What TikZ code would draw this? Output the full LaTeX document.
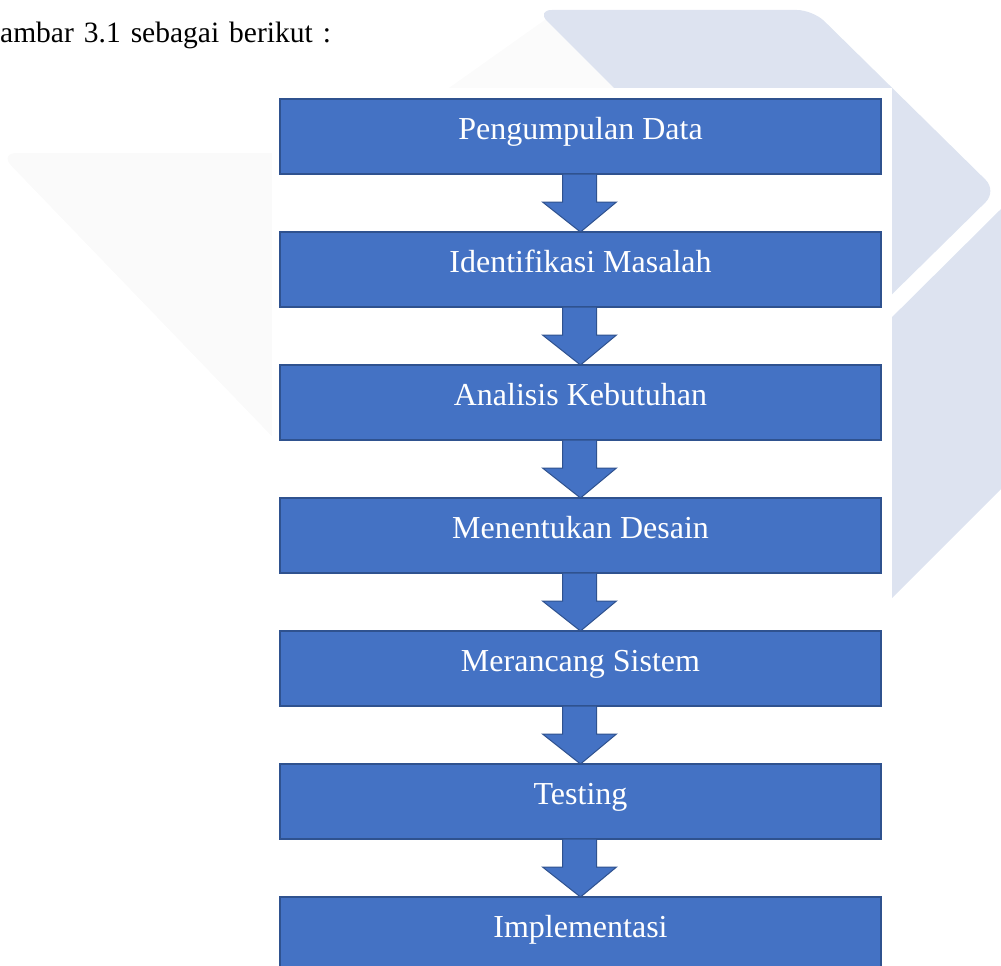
\documentclass[tikz,border=0pt]{standalone}
\usepackage{fontspec}
\setmainfont{Liberation Serif}
\usetikzlibrary{calc}
\definecolor{boxblue}{HTML}{4472C4}
\definecolor{boxedge}{HTML}{2F528F}
\definecolor{wmblue}{HTML}{DDE3F0}
\definecolor{wmgray}{HTML}{FAFAFA}
\definecolor{wmgraylight}{HTML}{FBFBFB}
\tikzset{
  stepbox/.style={draw=boxedge, line width=1.3pt, fill=boxblue, text=white,
    minimum width=601pt, minimum height=75pt, inner sep=0pt, outer sep=0pt,
    text height=25pt, text depth=20pt, font=\fontsize{32}{38}\selectfont},
  blockarrow/.style={draw=boxedge, line width=1pt, fill=boxblue, line join=miter}
}
\begin{document}
\begin{tikzpicture}[x=1pt,y=-1pt]
\useasboundingbox (0,0) rectangle (1001,966);
\clip (0,0) rectangle (1001,966);
% watermark
\fill[wmgray, rounded corners=18pt] (-1,153) -- (420,153) -- (420,590) -- cycle;
\fill[wmgraylight] (432,100) -- (556,12) -- (620,12) -- (620,100) -- cycle;
\fill[wmblue, rounded corners=16pt] (536,10) -- (813,10) -- (997,191) -- (813,372) -- (536,372) -- (717,191) -- cycle;
\fill[wmblue] (870,339) -- (1001,209) -- (1001,489) -- (870,620) -- cycle;
% white page of the figure
\fill[white] (272,88) rectangle (892,970);
% heading text
\node[anchor=base west, inner sep=0pt, font=\fontsize{29.5}{36}\selectfont] (head) at (0,43) {\spaceskip=10pt ambar 3.1 sebagai berikut :};
% boxes
\node[stepbox] (b1) at (580.5,136.5) {Pengumpulan Data};
\node[stepbox] (b2) at (580.5,269.5) {Identifikasi Masalah};
\node[stepbox] (b3) at (580.5,402.5) {Analisis Kebutuhan};
\node[stepbox] (b4) at (580.5,535.5) {Menentukan Desain};
\node[stepbox] (b5) at (580.5,668.5) {Merancang Sistem};
\node[stepbox] (b6) at (580.5,801.5) {Testing};
\node[stepbox] (b7) at (580.5,934.5) {Implementasi};
% block arrows
\foreach \a/\b in {b1/b2,b2/b3,b3/b4,b4/b5,b5/b6,b6/b7}{
  \draw[blockarrow] ($(\a.south)+(-18,0)$) -- ($(\a.south)+(-18,28)$) -- ($(\a.south)+(-38,28)$)
    -- ($(\b.north)+(0,0)$) -- ($(\a.south)+(36,28)$) -- ($(\a.south)+(16,28)$)
    -- ($(\a.south)+(16,0)$) -- cycle;
}
\end{tikzpicture}
\end{document}
